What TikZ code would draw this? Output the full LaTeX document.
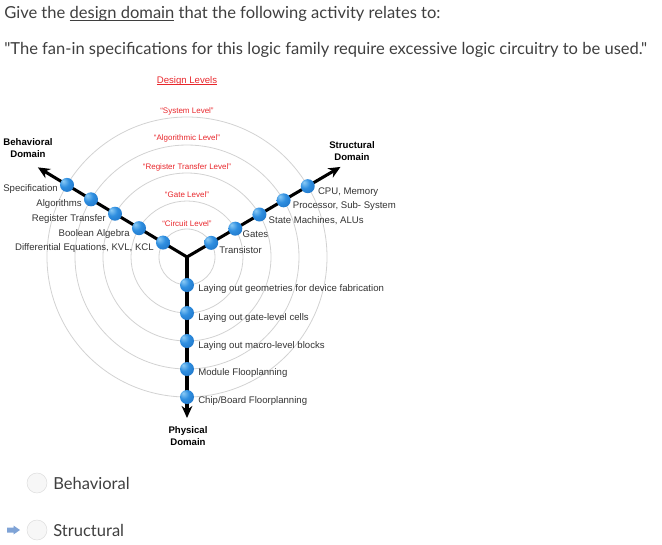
\documentclass[tikz,border=0pt]{standalone}
\usepackage{fontspec}
\setmainfont{Liberation Sans}
\newfontfamily\latofont{Lato}
\usetikzlibrary{arrows.meta,shadings}
\definecolor{qtext}{HTML}{3F3F3F}
\definecolor{lvlred}{HTML}{E8262B}
\definecolor{ringgray}{HTML}{D2D2D2}
\definecolor{dotlight}{HTML}{8CCBF5}
\definecolor{dotmid}{HTML}{2E8EE0}
\definecolor{dotdark}{HTML}{1766B8}
\definecolor{iconblue}{HTML}{7FA3D6}
\newcommand\myul[2]{\setbox0\hbox{#2}\rlap{\rule[-#1]{\wd0}{0.5pt}}\box0\relax}
\pgfdeclareradialshading{dotshade}{\pgfpoint{-14bp}{14bp}}{color(0bp)=(dotlight); color(18bp)=(dotmid); color(50bp)=(dotdark); color(70bp)=(dotdark)}
\tikzset{
 ring/.style={draw=ringgray, line width=0.6pt},
 axis/.style={line width=2.3pt, -{Stealth[length=9pt,width=8pt]}},
 dot/.style={circle, minimum size=10.5pt, inner sep=0, shading=dotshade},
 lbl/.style={inner sep=0, font=\fontsize{7.2pt}{8pt}\selectfont, text=black!80},
 lvl/.style={inner sep=0, font=\fontsize{6pt}{7pt}\selectfont, text=lvlred},
 dom/.style={inner sep=0, font=\fontsize{7.2pt}{8.6pt}\selectfont\bfseries, align=center},
 qst/.style={inner sep=0, anchor=west, font=\latofont\fontsize{12.4pt}{14pt}\selectfont, text=qtext},
 radio/.style={circle, draw=gray!25, fill=gray!6, minimum size=15pt, inner sep=0},
}
\begin{document}
\begin{tikzpicture}[x=0.75pt,y=-0.75pt]
\useasboundingbox (0,0) rectangle (662,544);
% question
\node[qst] (q1) at (4,14) {Give the \myul{1.6pt}{design domain} that the following activity relates to:};
\node[qst] (q2) at (4,50) {"The fan-in specifications for this logic family require excessive logic circuitry to be used."};
% centre
\coordinate (C) at (187,257);
% rings
\foreach \r in {28,56,84,112,140} \draw[ring] (C) circle[radius=\r];
% title and level labels
\node[lvl, font=\fontsize{7.2pt}{8pt}\selectfont] (title) at (187,81) {\myul{1pt}{Design Levels}};
\node[lvl] (l5) at (187,111) {“System Level”};
\node[lvl] (l4) at (187,138) {“Algorithmic Level”};
\node[lvl] (l3) at (187,167) {“Register Transfer Level”};
\node[lvl] (l2) at (187,195) {“Gate Level”};
\node[lvl] (l1) at (187,224) {“Circuit Level”};
% axes
\coordinate (tipL) at ([shift={(211:174)}]C);
\coordinate (tipR) at ([shift={(329.6:178)}]C);
\coordinate (tipD) at ([shift={(90:161)}]C);
\draw[axis] (C) -- (tipL);
\draw[axis] (C) -- (tipR);
\draw[axis] (C) -- (tipD);
% dots
\foreach \i/\r in {1/28,2/56,3/84,4/112,5/140} {
  \node[dot] (b\i) at ([shift={(211:\r)}]C) {};
  \node[dot] (s\i) at ([shift={(329.6:\r)}]C) {};
  \node[dot] (p\i) at ([shift={(90:\r)}]C) {};
}
% behavioural labels
\node[lbl, anchor=east] (bt5) at ([shift={(-9,4)}]b5) {Specification};
\node[lbl, anchor=east] (bt4) at ([shift={(-9,5)}]b4) {Algorithms};
\node[lbl, anchor=east] (bt3) at ([shift={(-9,5)}]b3) {Register Transfer};
\node[lbl, anchor=east] (bt2) at ([shift={(-9,6)}]b2) {Boolean Algebra};
\node[lbl, anchor=east] (bt1) at ([shift={(-9,5)}]b1) {Differential Equations, KVL, KCL};
% structural labels
\node[lbl, anchor=west] (st5) at ([shift={(10,6)}]s5) {CPU, Memory};
\node[lbl, anchor=west] (st4) at ([shift={(9,6)}]s4) {Processor, Sub- System};
\node[lbl, anchor=west] (st3) at ([shift={(9,6)}]s3) {State Machines, ALUs};
\node[lbl, anchor=west] (st2) at ([shift={(7,6)}]s2) {Gates};
\node[lbl, anchor=west] (st1) at ([shift={(8,7)}]s1) {Transistor};
% physical labels
\node[lbl, anchor=west] (pt1) at (198,289) {Laying out geometries for device fabrication};
\node[lbl, anchor=west] (pt2) at (198,318) {Laying out gate-level cells};
\node[lbl, anchor=west] (pt3) at (198,346) {Laying out macro-level blocks};
\node[lbl, anchor=west] (pt4) at (198,373) {Module Flooplanning};
\node[lbl, anchor=west] (pt5) at (198,401) {Chip/Board Floorplanning};
% domain labels
\node[dom] (bd) at (28,148) {Behavioral\\Domain};
\node[dom] (sd) at (352,151) {Structural\\Domain};
\node[dom] (pd) at (188,436) {Physical\\Domain};
% answers
\node[radio] (r1) at (37,483) {};
\node[qst, anchor=west] (a1) at (53,483) {Behavioral};
\node[radio] (r2) at (37,530) {};
\node[qst, anchor=west] (a2) at (53,530) {Structural};
\fill[iconblue] (7,527.5) -- (13.5,527.5) -- (13.5,525.5) -- (20,530) -- (13.5,534.5) -- (13.5,532.5) -- (7,532.5) -- cycle;
\end{tikzpicture}
\end{document}
